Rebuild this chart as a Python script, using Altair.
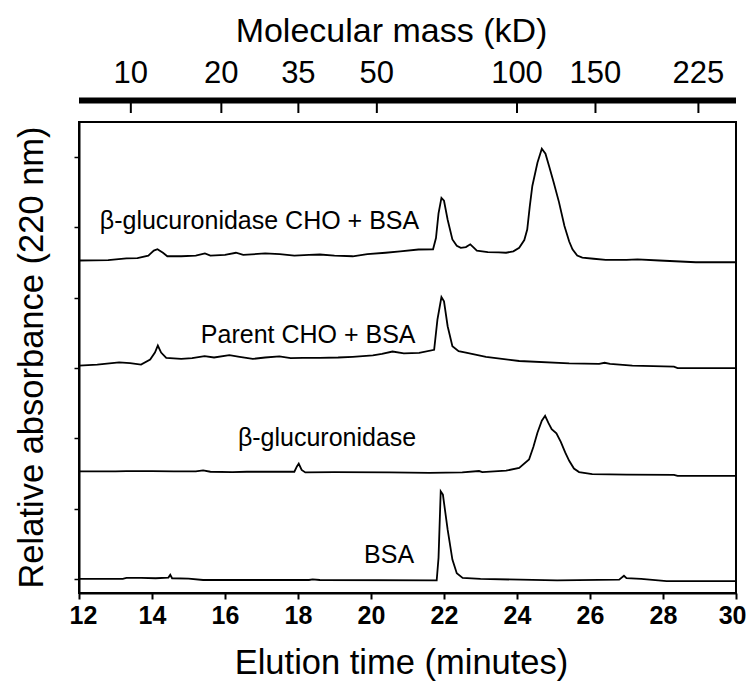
import altair as alt
import pandas as pd

# ---- data (elution time in minutes, relative absorbance in tick units) ----
t_gus_cho_bsa = [12.0, 12.8, 13.3, 13.6, 13.9, 14.05, 14.15, 14.3, 14.42, 14.8, 15.2, 15.45, 15.6, 16.0, 16.3,
                 16.5, 17.1, 17.5, 17.9, 18.3, 18.6, 19.0, 19.5, 19.9, 20.4, 20.8, 21.3, 21.7, 21.78, 21.85,
                 21.93, 22.0, 22.1, 22.23, 22.35, 22.46, 22.6, 22.72, 22.8, 22.9, 23.2, 23.5, 23.7, 23.9, 24.06,
                 24.2, 24.28, 24.35, 24.42, 24.56, 24.68, 24.78, 24.88, 25.0, 25.15, 25.3, 25.43, 25.52, 25.65,
                 25.79, 26.1, 26.43, 27.0, 27.3, 27.9, 28.9, 30.0]
v_gus_cho_bsa = [4.53, 4.535, 4.56, 4.565, 4.60, 4.67, 4.69, 4.64, 4.59, 4.59, 4.60, 4.63, 4.60, 4.61, 4.64,
                 4.61, 4.63, 4.62, 4.60, 4.61, 4.615, 4.60, 4.59, 4.62, 4.64, 4.66, 4.686, 4.69, 4.85, 5.2,
                 5.42, 5.38, 5.11, 4.83, 4.74, 4.71, 4.72, 4.76, 4.72, 4.67, 4.65, 4.645, 4.64, 4.66, 4.71,
                 4.82, 4.97, 5.3, 5.59, 5.92, 6.12, 6.05, 5.87, 5.65, 5.36, 5.02, 4.8, 4.69, 4.6,
                 4.57, 4.555, 4.54, 4.54, 4.545, 4.53, 4.505, 4.505]

t_parent_cho_bsa = [12.0, 12.5, 13.1, 13.4, 13.7, 13.95, 14.08, 14.16, 14.25, 14.39, 14.8, 15.1, 15.44, 15.7,
                    16.12, 16.4, 16.76, 17.1, 17.49, 17.8, 18.13, 18.6, 19.1, 19.5, 20.05, 20.3, 20.59, 20.9,
                    21.32, 21.73, 21.82, 21.93, 22.0, 22.1, 22.23, 22.4, 22.6, 23.15, 24.06, 25.43, 26.25,
                    26.4, 26.55, 27.16, 28.3, 28.4, 30.0]
v_parent_cho_bsa = [3.035, 3.05, 3.08, 3.07, 3.05, 3.12, 3.22, 3.32, 3.22, 3.145, 3.13, 3.14, 3.17, 3.15,
                    3.185, 3.16, 3.13, 3.15, 3.165, 3.14, 3.145, 3.145, 3.15, 3.16, 3.18, 3.2, 3.235, 3.21,
                    3.215, 3.26, 3.69, 4.01, 3.95, 3.595, 3.31, 3.24, 3.22, 3.16, 3.10, 3.065, 3.06,
                    3.075, 3.06, 3.035, 3.02, 3.0, 3.0]

t_gus = [12.0, 13.0, 13.3, 13.6, 14.0, 14.6, 15.2, 15.4, 15.6, 16.2, 16.6, 17.4, 17.9, 17.97, 18.02, 18.1,
         18.2, 19.0, 20.5, 21.6, 22.5, 22.96, 23.05, 23.7, 24.06, 24.33, 24.45, 24.56, 24.68, 24.77, 24.86,
         24.95, 25.08, 25.2, 25.32, 25.43, 25.56, 25.7, 26.06, 27.0, 28.3, 28.4, 30.0]
v_gus = [1.53, 1.53, 1.535, 1.535, 1.535, 1.53, 1.53, 1.545, 1.525, 1.52, 1.525, 1.525, 1.525, 1.6, 1.64, 1.55,
         1.515, 1.52, 1.515, 1.51, 1.515, 1.535, 1.52, 1.54, 1.58, 1.70, 1.88, 2.08, 2.25, 2.32, 2.22,
         2.13, 2.07, 1.95, 1.8, 1.68, 1.57, 1.52, 1.49, 1.485, 1.48, 1.465, 1.465]

t_bsa = [12.0, 13.2, 13.3, 13.7, 14.1, 14.45, 14.5, 14.55, 15.0, 15.4, 18.3, 18.4, 18.6, 21.8, 21.85, 21.91,
         21.97, 22.1, 22.23, 22.35, 22.51, 23.0, 25.1, 26.8, 26.93, 27.0, 27.4, 28.1, 30.0]
v_bsa = [0.0, 0.0, 0.015, 0.015, 0.01, 0.02, 0.06, 0.01, 0.005, -0.015, -0.015, -0.005, -0.015, -0.02, 0.3, 1.247,
         1.2, 0.70, 0.275, 0.08, 0.015, 0.0, -0.02, -0.01, 0.045, 0.01, 0.0, -0.03, -0.03]

series_names = ["β-glucuronidase CHO + BSA", "Parent CHO + BSA", "β-glucuronidase", "BSA"]
label_times = [21.32, 21.22, 21.24, 21.18]
label_values = [4.98, 3.356, 1.89, 0.226]

x_ticks = [12, 14, 16, 18, 20, 22, 24, 26, 28, 30]
y_ticks = [0, 1, 2, 3, 4, 5, 6]
mass_labels = ["10", "20", "35", "50", "100", "150", "225"]
mass_times = [13.42, 15.90, 18.01, 20.16, 24.0, 26.15, 28.97]

# ---- tables ----
rows = []
for name, ts, vs in zip(series_names,
                        [t_gus_cho_bsa, t_parent_cho_bsa, t_gus, t_bsa],
                        [v_gus_cho_bsa, v_parent_cho_bsa, v_gus, v_bsa]):
    for t, v in zip(ts, vs):
        rows.append({"series": name, "t": t, "v": v})
traces = pd.DataFrame(rows)
labels = pd.DataFrame({"text": series_names, "t": label_times, "v": label_values})
mass = pd.DataFrame({"label": mass_labels, "t": mass_times})
bar = pd.DataFrame({"t0": [12], "t1": [30]})

FONT = "Liberation Sans, Arial, Helvetica"

xs = alt.Scale(domain=[12, 30], nice=False, zero=False)
ys = alt.Scale(domain=[-0.2, 6.5], nice=False, zero=False)

lines = alt.Chart(traces).mark_line(color="black", strokeWidth=1.8).encode(
    x=alt.X("t:Q", scale=xs,
            axis=alt.Axis(values=x_ticks, title=None, grid=False, labelFont=FONT, labelFontWeight="bold",
                          labelFontSize=25, labelColor="black", labelPadding=4, tickSize=6, tickWidth=2,
                          tickColor="black", domainColor="black", domainWidth=2,
                          labelFlush=True, labelFlushOffset=10)),
    y=alt.Y("v:Q", scale=ys,
            axis=alt.Axis(values=y_ticks, title=None, grid=False, labels=False, tickSize=5, tickWidth=1.5,
                          tickColor="black", domainColor="black", domainWidth=2)),
    detail="series:N",
)

ann = alt.Chart(labels).mark_text(align="right", baseline="alphabetic", font=FONT, fontSize=25,
                                  color="black").encode(x="t:Q", y="v:Q", text="text:N")

top_bar = alt.Chart(bar).mark_rule(color="black", strokeWidth=6).encode(
    x="t0:Q", x2="t1:Q", y=alt.value(-21.5))

top_ticks = alt.Chart(mass).mark_rule(color="black", strokeWidth=2).encode(
    x="t:Q", y=alt.value(-19), y2=alt.value(-9))

top_labels = alt.Chart(mass).mark_text(align="center", baseline="alphabetic", font=FONT, fontSize=31,
                                       color="black").encode(x="t:Q", y=alt.value(-39), text="label:N")

top_title = alt.Chart(bar).mark_text(align="center", baseline="alphabetic", font=FONT, fontSize=34,
                                     color="black", text="Molecular mass (kD)").encode(
    x=alt.value(312.5), y=alt.value(-80))

x_title = alt.Chart(bar).mark_text(align="center", baseline="alphabetic", font=FONT, fontSize=34.5,
                                   color="black", text="Elution time (minutes)").encode(
    x=alt.value(322.5), y=alt.value(552))

y_title = alt.Chart(bar).mark_text(align="center", baseline="alphabetic", font=FONT, fontSize=34.5,
                                   color="black", angle=270, text="Relative absorbance (220 nm)").encode(
    x=alt.value(-36), y=alt.value(235.5))

chart = alt.layer(lines, ann, top_bar, top_ticks, top_labels, top_title, x_title, y_title).properties(
    width=657, height=471,
    autosize=alt.AutoSizeParams(type="none"),
    padding={"left": 71, "top": 114, "right": 10, "bottom": 90},
    background="white",
).configure_view(stroke="black", strokeWidth=2)

chart.save("out.html", embed_options={"renderer": "svg", "actions": False})
